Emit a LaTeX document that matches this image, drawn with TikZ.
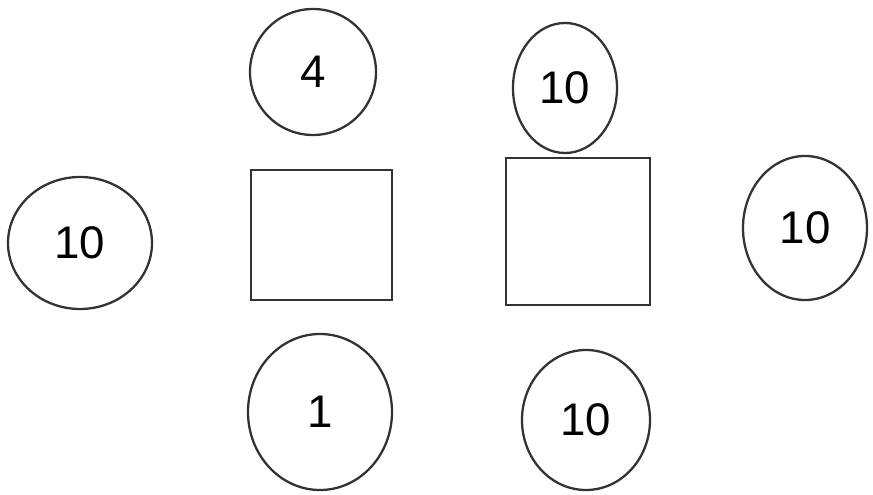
\documentclass[tikz,border=0pt]{standalone}
\usepackage{fontspec}
\setmainfont{Liberation Sans}
\usepackage{tikz}
\usetikzlibrary{shapes.geometric}

\begin{document}
\begin{tikzpicture}[x=1cm,y=1cm,font=\fontsize{26}{28}\selectfont,
  weight/.style={draw=black!80,line width=1.3pt,ellipse,inner sep=0pt},
  slot/.style={draw=black!80,line width=1.3pt,rectangle,inner sep=0pt}]
  % page of 873 x 495 px at 50 px per cm
  \useasboundingbox (0,0) rectangle (17.46,9.9);
  % the two squares
  \node[slot,minimum width=2.82cm,minimum height=2.6cm] (sqL) at (6.43,5.20) {};
  \node[slot,minimum width=2.88cm,minimum height=2.94cm] (sqR) at (11.56,5.27) {};
  % the six numbered circles
  \node[weight,minimum width=2.52cm,minimum height=2.52cm] (topL) at (6.26,8.46) {4};
  \node[weight,minimum width=2.08cm,minimum height=2.6cm] (topR) at (11.30,8.14) {10};
  \node[weight,minimum width=2.88cm,minimum height=2.64cm] (left) at (1.60,5.04) {10};
  \node[weight,minimum width=2.48cm,minimum height=2.88cm] (right) at (16.10,5.34) {10};
  \node[weight,minimum width=2.88cm,minimum height=3.12cm] (botL) at (6.40,1.66) {1};
  \node[weight,minimum width=2.56cm,minimum height=2.8cm] (botR) at (11.72,1.50) {10};
\end{tikzpicture}
\end{document}
